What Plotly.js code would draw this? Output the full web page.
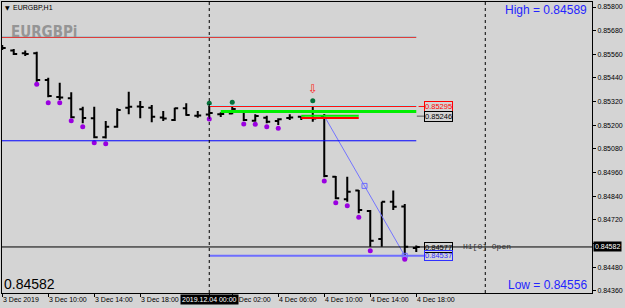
<!DOCTYPE html>
<html>
<head>
<meta charset="utf-8">
<script src="https://cdn.plot.ly/plotly-3.0.1.min.js"></script>
<style>html,body{margin:0;padding:0;background:#d4d4d4;}#chart{width:625px;height:308px;}</style>
</head>
<body>
<div id="chart"></div>
<script>
// ---- data (H1 bars, index 0 = 3 Dec 06:00) ----
const barIndex = Array.from({length: 37}, (_, i) => i);
const opens  = [0.85597,0.85579,0.85565,0.85565,0.85429,0.85343,0.85337,0.85281,0.85235,0.85139,0.85192,0.85289,0.85295,0.85289,0.85239,0.85226,0.85286,0.85248,0.85254,0.85255,0.85260,0.85269,0.85223,0.85238,0.85221,0.85237,0.85243,0.85236,0.85247,0.84939,0.84824,0.84868,0.84765,0.84622,0.84812,0.84787,0.84577];
const highs  = [0.85607,0.85587,0.85579,0.85573,0.85441,0.85416,0.85367,0.85294,0.85294,0.85221,0.85286,0.85370,0.85323,0.85303,0.85272,0.85289,0.85311,0.85272,0.85297,0.85266,0.85294,0.85272,0.85255,0.85248,0.85235,0.85255,0.85244,0.85294,0.85257,0.84942,0.84939,0.84871,0.84770,0.84812,0.84868,0.84800,0.84589];
const lows   = [0.85582,0.85556,0.85551,0.85421,0.85342,0.85328,0.85235,0.85210,0.85134,0.85133,0.85187,0.85255,0.85235,0.85215,0.85221,0.85221,0.85248,0.85238,0.85242,0.85242,0.85255,0.85221,0.85218,0.85210,0.85201,0.85226,0.85226,0.85218,0.84936,0.84824,0.84812,0.84753,0.84583,0.84583,0.84770,0.84537,0.84556];
const closes = [0.85592,0.85561,0.85562,0.85429,0.85348,0.85341,0.85240,0.85237,0.85139,0.85192,0.85277,0.85294,0.85292,0.85243,0.85234,0.85286,0.85252,0.85249,0.85262,0.85257,0.85282,0.85226,0.85247,0.85218,0.85230,0.85239,0.85238,0.85234,0.84942,0.84829,0.84862,0.84770,0.84614,0.84812,0.84786,0.84583,0.84582];

const purpleDotIdx = [3,4,5,6,7,8,9,18,21,22,23,24,28,29,30,31,32,35];
const purpleDotVal = [0.85408,0.85314,0.85314,0.85223,0.85192,0.85111,0.85106,0.85231,0.85206,0.85205,0.85192,0.85184,0.84917,0.84807,0.84791,0.84733,0.84563,0.84519];
const greenDotIdx = [18,20,27];
const greenDotVal = [0.85311,0.85316,0.85324];
const arrowIdx = 27, arrowVal = 0.85384;

const topLevelRed = 0.85646, topLevelCyan = 0.85651;
const blueLevel = 0.85121;
const redLevel = 0.85295, redLevelCyan = 0.85300;
const greenLevel = 0.85269;
const shortGreenLevel = 0.85248;
const shortRedLevel = 0.85237;
const grayLevel = 0.85246;
const lowLevel = 0.84537;
const bidPrice = 0.84582;
const openPrice = 0.84577;
const trendIdx = [28, 35];
const trendVal = [0.85247, 0.84537];
const trendMarkIdx = [31.5, 35];
const trendMarkVal = [0.84892, 0.84537];

const timeTickIdx = [0,4,8,12,20,24,28,32,36];
const timeTickText = ['3 Dec 2019','3 Dec 10:00','3 Dec 14:00','3 Dec 18:00','4 Dec 02:00','4 Dec 06:00','4 Dec 10:00','4 Dec 14:00','4 Dec 18:00'];
const daySepIdx = [18, 42];
const crossLabel = '2019.12.04 00:00';
const priceTicks = [0.84360,0.84480,0.84600,0.84720,0.84840,0.84960,0.85080,0.85200,0.85320,0.85440,0.85560,0.85680,0.85800];
const highText = 'High = 0.84589', lowText = 'Low = 0.84556';

// ---- layout helpers ----
const F = 'Liberation Sans, Arial, sans-serif';
const xp = px => (px - 2) / 590;
const yp = py => (293 - py) / 291;

const traces = [
  {type:'ohlc', x: barIndex, open: opens, high: highs, low: lows, close: closes,
   increasing:{line:{color:'#000000', width:2}}, decreasing:{line:{color:'#000000', width:2}},
   tickwidth:0.3, hoverinfo:'skip'},
  {type:'scatter', mode:'lines', x: trendIdx, y: trendVal, line:{color:'#7474ff', width:1}, hoverinfo:'skip'},
  {type:'scatter', mode:'markers', x: trendMarkIdx, y: trendMarkVal,
   marker:{symbol:'square-open', size:5, color:'#6a6aff', line:{width:1}}, hoverinfo:'skip'},
  {type:'scatter', mode:'markers', x: purpleDotIdx, y: purpleDotVal,
   marker:{symbol:'circle', size:5, color:'#9a00e0'}, hoverinfo:'skip'},
  {type:'scatter', mode:'markers', x: greenDotIdx, y: greenDotVal,
   marker:{symbol:'circle', size:5, color:'#06703a'}, hoverinfo:'skip'}
];

function hline(y, x0, x1, color, width, xref) {
  return {type:'line', xref: xref || 'x', yref:'y', x0:x0, x1:x1, y0:y, y1:y, line:{color:color, width:width}};
}
const shapes = [
  hline(topLevelCyan, -0.1, 36, '#9fe6ee', 1),
  hline(topLevelRed, -0.1, 36, '#e0201e', 1),
  hline(blueLevel, -0.1, 36, '#0000ff', 1),
  hline(redLevelCyan, 18, 36, '#9fe6ee', 1),
  hline(redLevel, 18, 36, '#ff1010', 1.2),
  hline(redLevel, 36.2, 36.7, '#ff1010', 1),
  hline(greenLevel, 19, 36, '#00ee00', 3),
  hline(shortGreenLevel, 26, 31, '#00ee00', 2),
  hline(shortRedLevel, 26, 31, '#ff0000', 2),
  hline(grayLevel, 36.05, 36.7, '#555555', 1),
  hline(lowLevel, 18, 36.7, '#6e6eff', 2),
  hline(bidPrice, 0, 1, '#000000', 1, 'paper'),
  ...daySepIdx.map(d => ({type:'line', xref:'x', yref:'paper', x0:d, x1:d, y0:0, y1:1,
    line:{color:'#000000', width:1, dash:'dot'}}))
];

const annotations = [];
// time labels
timeTickIdx.forEach((t, i) => annotations.push({xref:'x', yref:'paper', x:t, y:0, xanchor:'left', yanchor:'top',
  yshift:-1, xshift:-1, text: timeTickText[i], showarrow:false, font:{family:F, size:7, color:'#000'}}));
annotations.push({xref:'x', yref:'paper', x:18, y:0, xanchor:'center', yanchor:'top', yshift:-1,
  text: crossLabel, showarrow:false, bgcolor:'#000', borderpad:1, font:{family:F, size:7, color:'#fff'}});
// level labels
function boxLabel(y, text, color, border) {
  annotations.push({xref:'x', yref:'y', x:36.7, y:y, xanchor:'left', yanchor:'middle', text:text, showarrow:false,
    bordercolor:border, borderwidth:1, borderpad:0, font:{family:F, size:7.5, color:color}});
}
boxLabel(redLevel, redLevel.toFixed(5), '#ff0000', '#ff0000');
boxLabel(grayLevel, grayLevel.toFixed(5), '#000000', '#000000');
boxLabel(openPrice, openPrice.toFixed(5), '#000000', '#000000');
boxLabel(lowLevel, lowLevel.toFixed(5), '#3030ff', '#3030ff');
annotations.push({xref:'x', yref:'y', x:39.4, y:bidPrice, xanchor:'left', yanchor:'middle', xshift:6,
  text:'H1[0] Open', showarrow:false, font:{family:'Liberation Mono, Courier New, monospace', size:8, color:'#333'}});
// bid label on price axis (covers the 0.84600 tick, as in the reference)
annotations.push({xref:'paper', yref:'y', x:1, y:bidPrice, xanchor:'left', yanchor:'middle', xshift:1,
  text: bidPrice.toFixed(5), showarrow:false, bgcolor:'#000', borderpad:1, font:{family:F, size:7, color:'#fff'}});
// arrow
annotations.push({xref:'x', yref:'y', x:arrowIdx, y:arrowVal, text:'⇩', showarrow:false,
  font:{family:'DejaVu Sans', size:12, color:'#ff2020'}});
// texts
annotations.push({xref:'paper', yref:'paper', x:xp(3), y:yp(7), xanchor:'left', yanchor:'middle', text:'▼',
  showarrow:false, font:{family:'DejaVu Sans', size:6, color:'#000'}});
annotations.push({xref:'paper', yref:'paper', x:xp(11), y:yp(7), xanchor:'left', yanchor:'middle', text:'EURGBP,H1',
  showarrow:false, font:{family:F, size:7, color:'#000'}});
annotations.push({xref:'paper', yref:'paper', x:xp(9), y:yp(32), xanchor:'left', yanchor:'middle', text:'<b>EURGBPi</b>',
  showarrow:false, font:{family:'Liberation Sans Narrow, DejaVu Sans Condensed, Arial Narrow, sans-serif', size:15, color:'#959595'}});
annotations.push({xref:'paper', yref:'paper', x:xp(589), y:yp(10), xanchor:'right', yanchor:'middle', text:highText,
  showarrow:false, font:{family:F, size:12, color:'#2424ff'}});
annotations.push({xref:'paper', yref:'paper', x:xp(589), y:yp(285), xanchor:'right', yanchor:'middle', text:lowText,
  showarrow:false, font:{family:F, size:12, color:'#2424ff'}});
annotations.push({xref:'paper', yref:'paper', x:xp(2), y:yp(284), xanchor:'left', yanchor:'middle', text: bidPrice.toFixed(5),
  showarrow:false, font:{family:F, size:14, color:'#000'}});

const layout = {
  width:625, height:308,
  margin:{l:2, r:33, t:2, b:15, pad:0},
  paper_bgcolor:'#d4d4d4', plot_bgcolor:'#d4d4d4',
  showlegend:false, hovermode:false, dragmode:false,
  xaxis:{range:[-0.02, 51.28], showgrid:false, zeroline:false, showline:true, mirror:true,
    linecolor:'#000', linewidth:1, ticks:'outside', ticklen:3, tickcolor:'#000',
    tickvals:[0,4,8,12,18,20,24,28,32,36], showticklabels:false, rangeslider:{visible:false}, fixedrange:true},
  yaxis:{range:[0.843483, 0.858254], side:'right', showgrid:false, zeroline:false, showline:true, mirror:true,
    linecolor:'#000', linewidth:1, ticks:'outside', ticklen:3, tickcolor:'#000',
    tickvals: priceTicks, ticktext: priceTicks.map(v => Math.abs(v - bidPrice) < 0.0003 ? '' : v.toFixed(5)),
    tickfont:{family:F, size:7, color:'#000'}, fixedrange:true},
  shapes: shapes,
  annotations: annotations
};
Plotly.newPlot('chart', traces, layout, {staticPlot:true, displayModeBar:false});
</script>
</body>
</html>
